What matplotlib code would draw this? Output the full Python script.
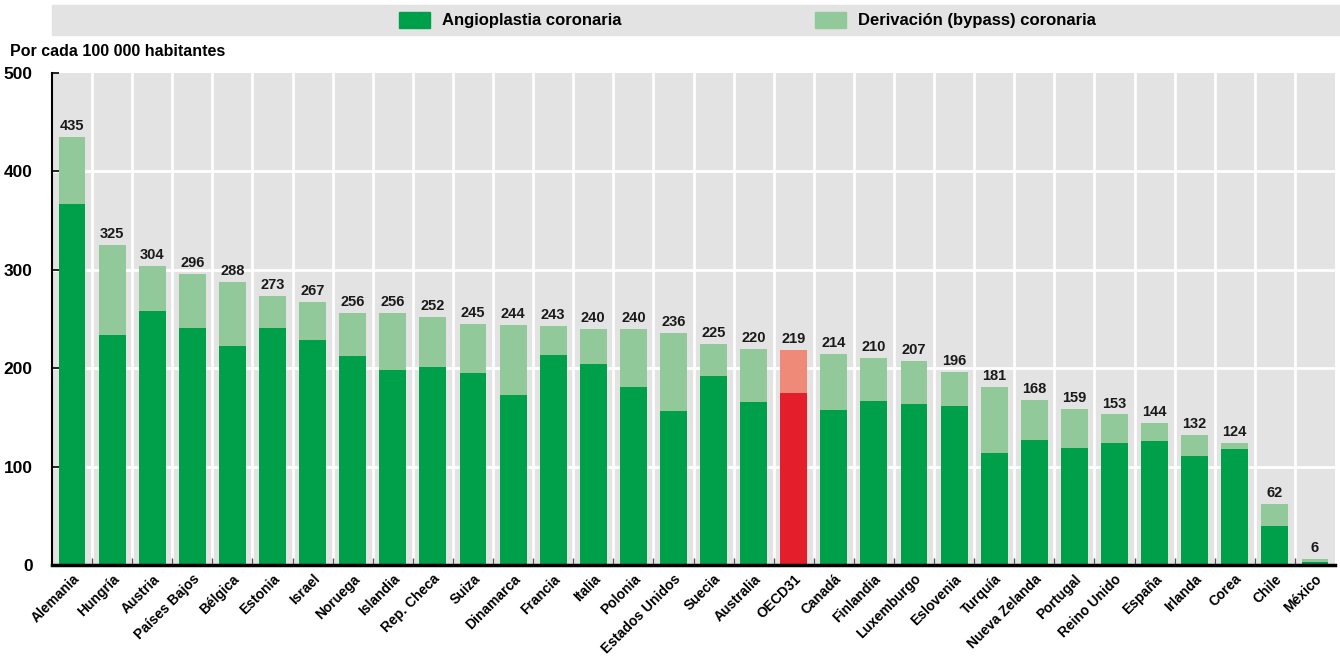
import matplotlib
matplotlib.use("Agg")
import matplotlib.pyplot as plt
from matplotlib.patches import Rectangle
import numpy as np

plt.rcParams['font.family'] = ['Liberation Sans Narrow', 'Liberation Sans', 'DejaVu Sans']
plt.rcParams['font.weight'] = 'bold'

countries = ["Alemania", "Hungría", "Austria", "Países Bajos", "Bélgica", "Estonia",
             "Israel", "Noruega", "Islandia", "Rep. Checa", "Suiza", "Dinamarca",
             "Francia", "Italia", "Polonia", "Estados Unidos", "Suecia", "Australia",
             "OECD31", "Canadá", "Finlandia", "Luxemburgo", "Eslovenia", "Turquía",
             "Nueva Zelanda", "Portugal", "Reino Unido", "España", "Irlanda", "Corea",
             "Chile", "México"]
totals = [435, 325, 304, 296, 288, 273, 267, 256, 256, 252, 245, 244, 243, 240, 240,
          236, 225, 220, 219, 214, 210, 207, 196, 181, 168, 159, 153, 144, 132, 124,
          62, 6]
angioplasty = [367, 234, 258, 241, 223, 241, 229, 212, 198, 201, 195, 173, 213, 204,
               181, 157, 192, 166, 175, 158, 167, 164, 162, 114, 127, 119, 124, 126,
               111, 118, 40, 3]
bypass = [t - a for t, a in zip(totals, angioplasty)]
highlight = "OECD31"

DARK = "#00a04b"
LIGHT = "#92c99a"
RED = "#e41f2b"
SALMON = "#f08a78"
BG = "#e3e3e3"

W, H = 1340, 658
fig = plt.figure(figsize=(W / 100, H / 100), dpi=100)
ax = fig.add_axes([52 / W, 1 - 565 / H, 1283 / W, 492 / H])
ax.set_facecolor(BG)

x = np.arange(len(countries))
dark_cols = [RED if c == highlight else DARK for c in countries]
light_cols = [SALMON if c == highlight else LIGHT for c in countries]
ax.bar(x, angioplasty, width=0.67, color=dark_cols, zorder=3)
ax.bar(x, bypass, bottom=angioplasty, width=0.67, color=light_cols, zorder=3)

for xi, t in zip(x, totals):
    ax.text(xi, t + 4, str(t), ha='center', va='bottom', fontsize=10.5,
            fontweight='bold', color='#1a1a1a', zorder=4)

ax.set_xlim(-0.5, len(countries) - 0.5)
ax.set_ylim(0, 500)
ax.set_yticks([0, 100, 200, 300, 400, 500])
ax.set_yticklabels(["0", "100", "200", "300", "400", "500"], fontsize=12.5,
                   fontweight='bold')

# gridlines: horizontal at value ticks, vertical between categories
for yv in [100, 200, 300, 400]:
    ax.axhline(yv, color='white', lw=2, zorder=1)
for b in np.arange(0.5, len(countries) - 0.5, 1.0):
    ax.axvline(b, color='white', lw=2, zorder=1)

ax.set_xticks(x)
ax.set_xticklabels(countries, rotation=45, ha='right', rotation_mode='anchor',
                   fontsize=10, fontweight='bold')
ax.tick_params(axis='x', length=0, pad=5)
ax.set_xticks(np.arange(0.5, len(countries) - 0.5, 1.0), minor=True)
ax.tick_params(axis='x', which='minor', direction='in', length=5, color='#555555',
               width=1)
ax.tick_params(axis='y', direction='in', length=5, width=1.2, color='black', pad=14)
for lab in ax.get_yticklabels():
    lab.set_horizontalalignment('right')

for s in ['top', 'right']:
    ax.spines[s].set_visible(False)
ax.spines['bottom'].set_linewidth(2.5)
ax.spines['left'].set_linewidth(1.5)
ax.spines['bottom'].set_zorder(5)

fig.text(10 / W, 1 - 52 / H, "Por cada 100 000 habitantes", fontsize=11.5,
         fontweight='bold', va='center', ha='left')

# legend band
fig.patches.append(Rectangle((52 / W, 1 - 35 / H), 1288 / W, 30 / H,
                             transform=fig.transFigure, color=BG, zorder=0))
fig.patches.append(Rectangle((399 / W, 1 - 28 / H), 31 / W, 16 / H,
                             transform=fig.transFigure, color=DARK, zorder=1))
fig.text(442 / W, 1 - 20 / H, "Angioplastia coronaria", fontsize=12,
         fontweight='bold', va='center', ha='left')
fig.patches.append(Rectangle((815 / W, 1 - 28 / H), 31 / W, 16 / H,
                             transform=fig.transFigure, color=LIGHT, zorder=1))
fig.text(858 / W, 1 - 20 / H, "Derivación (bypass) coronaria", fontsize=12,
         fontweight='bold', va='center', ha='left')

fig.savefig("out.png", dpi=100)
